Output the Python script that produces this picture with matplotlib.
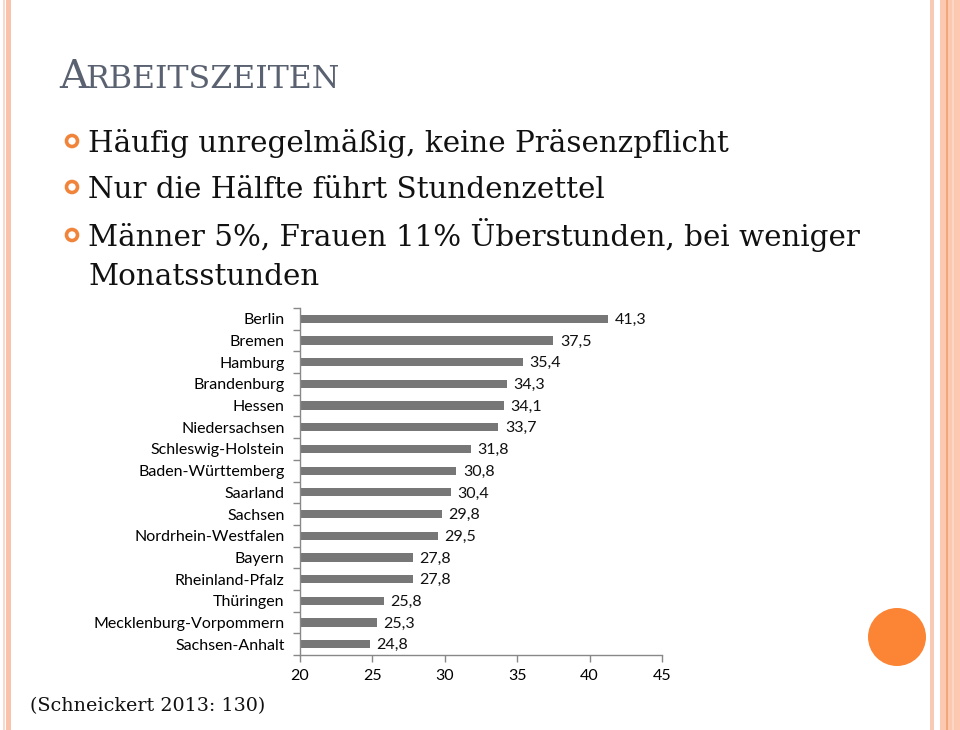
import matplotlib
matplotlib.use("Agg")
import matplotlib.pyplot as plt
from matplotlib.patches import Rectangle, Circle
import numpy as np

states = ["Berlin", "Bremen", "Hamburg", "Brandenburg", "Hessen", "Niedersachsen",
          "Schleswig-Holstein", "Baden-Württemberg", "Saarland", "Sachsen",
          "Nordrhein-Westfalen", "Bayern", "Rheinland-Pfalz", "Thüringen",
          "Mecklenburg-Vorpommern", "Sachsen-Anhalt"]
values = [41.3, 37.5, 35.4, 34.3, 34.1, 33.7, 31.8, 30.8, 30.4, 29.8, 29.5,
          27.8, 27.8, 25.8, 25.3, 24.8]
x_ticks = [20, 25, 30, 35, 40, 45]

bullets = ["Häufig unregelmäßig, keine Präsenzpflicht",
           "Nur die Hälfte führt Stundenzettel",
           "Männer 5%, Frauen 11% Überstunden, bei weniger"]
bullet_cont = "Monatsstunden"
source = "(Schneickert 2013: 130)"

W, H = 960, 730
fig = plt.figure(figsize=(9.6, 7.3), dpi=100)
fig.patch.set_facecolor("white")

# overlay axes in pixel coordinates
ov = fig.add_axes([0, 0, 1, 1])
ov.set_xlim(0, W)
ov.set_ylim(H, 0)
ov.axis("off")

# side borders
ov.add_patch(Rectangle((3, 0), 2, H, color="#fbd9ca", lw=0))
ov.add_patch(Rectangle((6, 0), 5, H, color="#f9c2ab", lw=0))
ov.add_patch(Rectangle((930, 0), 4, H, color="#f8c9b5", lw=0))
ov.add_patch(Rectangle((940, 0), 20, H, color="#fcc8b0", lw=0))
ov.add_patch(Rectangle((946, 0), 2, H, color="#f3a57c", lw=0))
ov.add_patch(Rectangle((952, 0), 2, H, color="#fbd6c4", lw=0))

# orange circle
ov.add_patch(Circle((897, 637), 29, color="#fb8535", lw=0))

# title small caps
serif = ["DejaVu Serif"]
ov.text(59, 88, "A", fontsize=29, color="#5a6170", family=serif, va="baseline")
ov.text(85, 88, "RBEITSZEITEN", fontsize=22.8, color="#5a6170", family=serif,
        va="baseline")

# bullets
ys = [152, 198, 246]
for y, txt in zip(ys, bullets):
    ov.add_patch(Circle((72, y - 11), 5.5, fill=False, ec="#f0843a", lw=2.6))
    ov.text(88, y, txt, fontsize=21.2, color="#111111", family=serif, va="baseline")
ov.text(88, 285, bullet_cont, fontsize=21.2, color="#111111", family=serif,
        va="baseline")
ov.text(30, 711, source, fontsize=13.8, color="#111111", family=serif, va="baseline")

# chart
ax = fig.add_axes([300 / W, 1 - 655 / H, 362 / W, (655 - 308) / H])
y = np.arange(len(states))
ax.barh(y, values, height=0.38, color="#777777", left=0)
ax.set_xlim(20, 45)
ax.set_ylim(len(states) - 0.5, -0.5)
sans = ["Lato", "DejaVu Sans"]
for i, v in enumerate(values):
    ax.text(v + 0.45, i + 0.05, f"{v:.1f}".replace(".", ","), va="center", ha="left",
            fontsize=11.5, family=sans, color="#111111")
ax.set_xticks(x_ticks)
ax.set_xticklabels([str(t) for t in x_ticks], family=sans, fontsize=11.5)
ax.set_yticks(np.arange(-0.5, len(states), 1.0))
ax.set_yticklabels([])
ax.set_yticks(y, minor=True)
ax.set_yticklabels(states, minor=True, family=sans, fontsize=11.5)
ax.tick_params(axis="y", which="minor", length=0, pad=11)
ax.tick_params(axis="y", which="major", length=5, color="#888888", width=1)
ax.tick_params(axis="x", length=5, color="#888888", width=1, pad=5)
for s in ["top", "right"]:
    ax.spines[s].set_visible(False)
for s in ["left", "bottom"]:
    ax.spines[s].set_color("#888888")
    ax.spines[s].set_linewidth(1)
ax.set_facecolor("none")

fig.savefig("out.png", dpi=100, facecolor="white")
